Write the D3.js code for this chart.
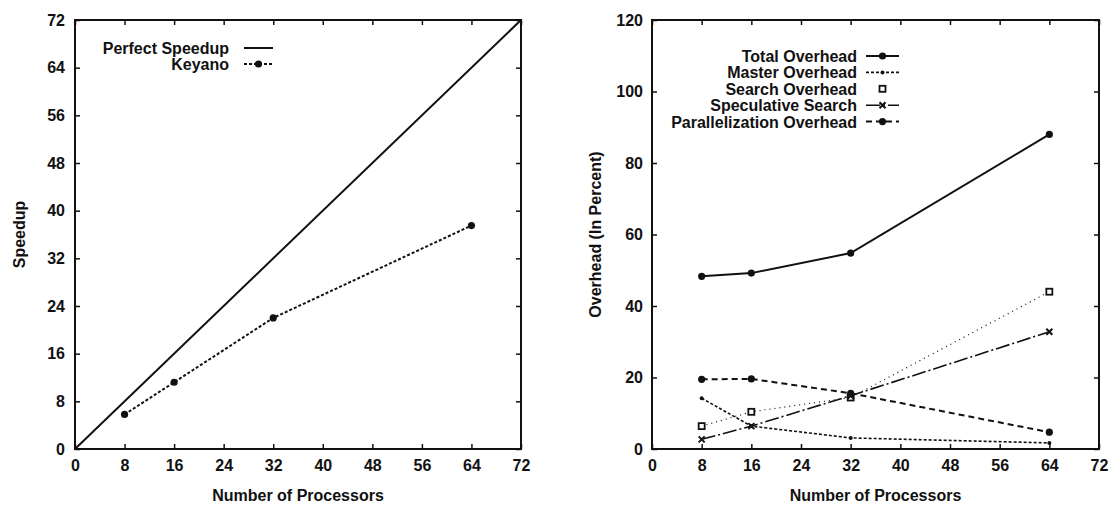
<!DOCTYPE html>
<html>
<head>
<meta charset="utf-8">
<script src="https://cdn.jsdelivr.net/npm/d3@7/dist/d3.min.js"></script>
<style>
  html, body { margin: 0; padding: 0; background: #fff; }
  svg text { font-family: "Liberation Sans", Arial, Helvetica, sans-serif; font-weight: bold; fill: #111; }
</style>
</head>
<body>
<svg id="chart" width="1111" height="508"></svg>
<script>
// Processor counts shared by both panels
const processors = [8, 16, 32, 64];

// Left panel: speedup
const perfectSpeedup = [0, 72];
const keyanoSpeedup = [5.8, 11.2, 22.0, 37.5];
const speedupTicks = [0, 8, 16, 24, 32, 40, 48, 56, 64, 72];

// Right panel: overhead breakdown (percent)
const totalOverhead = [48.3, 49.2, 54.8, 88.0];
const masterOverhead = [14.2, 6.4, 3.1, 1.7];
const searchOverhead = [6.4, 10.4, 14.4, 44.0];
const speculativeSearch = [2.7, 6.4, 14.9, 32.8];
const parallelizationOverhead = [19.5, 19.6, 15.6, 4.7];
const overheadTicks = [0, 20, 40, 60, 80, 100, 120];
const processorTicks = [0, 8, 16, 24, 32, 40, 48, 56, 64, 72];

const INK = "#111";
const FS = 16;
const svg = d3.select("#chart");

function panel(opts) {
  const g = svg.append("g");
  const x = d3.scaleLinear().domain([0, 72]).range([opts.left, opts.right]);
  const y = d3.scaleLinear().domain(opts.yDomain).range([opts.bottom, opts.top]);

  // tick marks pointing inward on all four sides
  const tl = 5;
  g.append("g").attr("transform", `translate(0,${opts.bottom})`)
    .call(d3.axisBottom(x).tickValues(processorTicks).tickSize(-tl).tickPadding(11).tickSizeOuter(0));
  g.append("g").attr("transform", `translate(0,${opts.top})`)
    .call(d3.axisTop(x).tickValues(processorTicks).tickSize(-tl).tickFormat("").tickSizeOuter(0));
  g.append("g").attr("transform", `translate(${opts.left},0)`)
    .call(d3.axisLeft(y).tickValues(opts.yTicks).tickSize(-tl).tickPadding(opts.yPad).tickSizeOuter(0));
  g.append("g").attr("transform", `translate(${opts.right},0)`)
    .call(d3.axisRight(y).tickValues(opts.yTicks).tickSize(-tl).tickFormat("").tickSizeOuter(0));

  g.selectAll(".domain").remove();
  g.selectAll(".tick line").attr("stroke", INK).attr("stroke-width", 1.5);
  g.selectAll(".tick text").attr("font-size", FS).attr("fill", INK)
    .style("font-family", '"Liberation Sans", Arial, sans-serif').style("font-weight", "bold");

  // frame
  g.append("rect")
    .attr("x", opts.left).attr("y", opts.top)
    .attr("width", opts.right - opts.left).attr("height", opts.bottom - opts.top)
    .attr("fill", "none").attr("stroke", INK).attr("stroke-width", 2);

  // axis titles
  g.append("text")
    .attr("x", (opts.left + opts.right) / 2).attr("y", 501)
    .attr("text-anchor", "middle").attr("font-size", FS)
    .text("Number of Processors");
  g.append("text")
    .attr("transform", `translate(${opts.yTitleX},${(opts.top + opts.bottom) / 2}) rotate(-90)`)
    .attr("text-anchor", "middle").attr("font-size", FS)
    .text(opts.yTitle);

  return { g, x, y };
}

function drawSeries(p, xs, ys, style) {
  const line = d3.line().x((d, i) => p.x(xs[i])).y(d => p.y(d));
  if (style.dash !== null) {
    p.g.append("path").datum(ys)
      .attr("d", line).attr("fill", "none")
      .attr("stroke", INK).attr("stroke-width", style.width || 2)
      .attr("stroke-dasharray", style.dash || null);
  }
  ys.forEach((v, i) => drawMarker(p.g, p.x(xs[i]), p.y(v), style.marker));
}

function drawMarker(g, cx, cy, kind) {
  if (kind === "dot") {
    g.append("circle").attr("cx", cx).attr("cy", cy).attr("r", 3.6).attr("fill", INK);
  } else if (kind === "smalldot") {
    g.append("circle").attr("cx", cx).attr("cy", cy).attr("r", 2).attr("fill", INK);
  } else if (kind === "square") {
    g.append("rect").attr("x", cx - 3).attr("y", cy - 3).attr("width", 6).attr("height", 6)
      .attr("fill", "#fff").attr("stroke", INK).attr("stroke-width", 1.8);
  } else if (kind === "cross") {
    g.append("path").attr("d", `M${cx - 3},${cy - 3}L${cx + 3},${cy + 3}M${cx - 3},${cy + 3}L${cx + 3},${cy - 3}`)
      .attr("stroke", INK).attr("stroke-width", 2);
  }
}

function legendRow(p, textRight, y, label, style, x0, x1) {
  p.g.append("text").attr("x", textRight).attr("y", y + 6)
    .attr("text-anchor", "end").attr("font-size", FS).text(label);
  if (style.dash !== null) {
    p.g.append("line").attr("x1", x0).attr("x2", x1).attr("y1", y).attr("y2", y)
      .attr("stroke", INK).attr("stroke-width", style.width || 2)
      .attr("stroke-dasharray", style.dash || null);
  }
  drawMarker(p.g, (x0 + x1) / 2, y, style.marker);
}

// ---- Left panel: speedup ----
const left = panel({
  left: 75, right: 521, top: 20, bottom: 449,
  yDomain: [0, 72], yTicks: speedupTicks, yPad: 10,
  yTitle: "Speedup", yTitleX: 25
});
const perfectStyle = { dash: "", width: 2, marker: null };
const keyanoStyle = { dash: "3,2", width: 2, marker: "dot" };
drawSeries(left, [0, 72], perfectSpeedup, perfectStyle);
drawSeries(left, processors, keyanoSpeedup, keyanoStyle);
legendRow(left, 229, 48, "Perfect Speedup", perfectStyle, 244, 273);
legendRow(left, 229, 64, "Keyano", keyanoStyle, 244, 273);

// ---- Right panel: overhead ----
const right = panel({
  left: 652, right: 1099, top: 20, bottom: 449,
  yDomain: [0, 120], yTicks: overheadTicks, yPad: 9,
  yTitle: "Overhead (In Percent)", yTitleX: 601
});
const styles = {
  total: { dash: "", width: 2, marker: "dot" },
  master: { dash: "3,2", width: 1.6, marker: "smalldot" },
  search: { dash: "1,4", width: 1.2, marker: "square" },
  speculative: { dash: "14,3,2,3", width: 1.6, marker: "cross" },
  parallel: { dash: "6,4", width: 2, marker: "dot" }
};
drawSeries(right, processors, totalOverhead, styles.total);
drawSeries(right, processors, masterOverhead, styles.master);
drawSeries(right, processors, searchOverhead, styles.search);
drawSeries(right, processors, speculativeSearch, styles.speculative);
drawSeries(right, processors, parallelizationOverhead, styles.parallel);

const legendItems = [
  ["Total Overhead", styles.total],
  ["Master Overhead", styles.master],
  ["Search Overhead", { dash: null, marker: "square" }],
  ["Speculative Search", styles.speculative],
  ["Parallelization Overhead", styles.parallel]
];
legendItems.forEach(([label, st], i) => {
  legendRow(right, 857, 56 + i * 16.4, label, st, 866, 899);
});
</script>
</body>
</html>
